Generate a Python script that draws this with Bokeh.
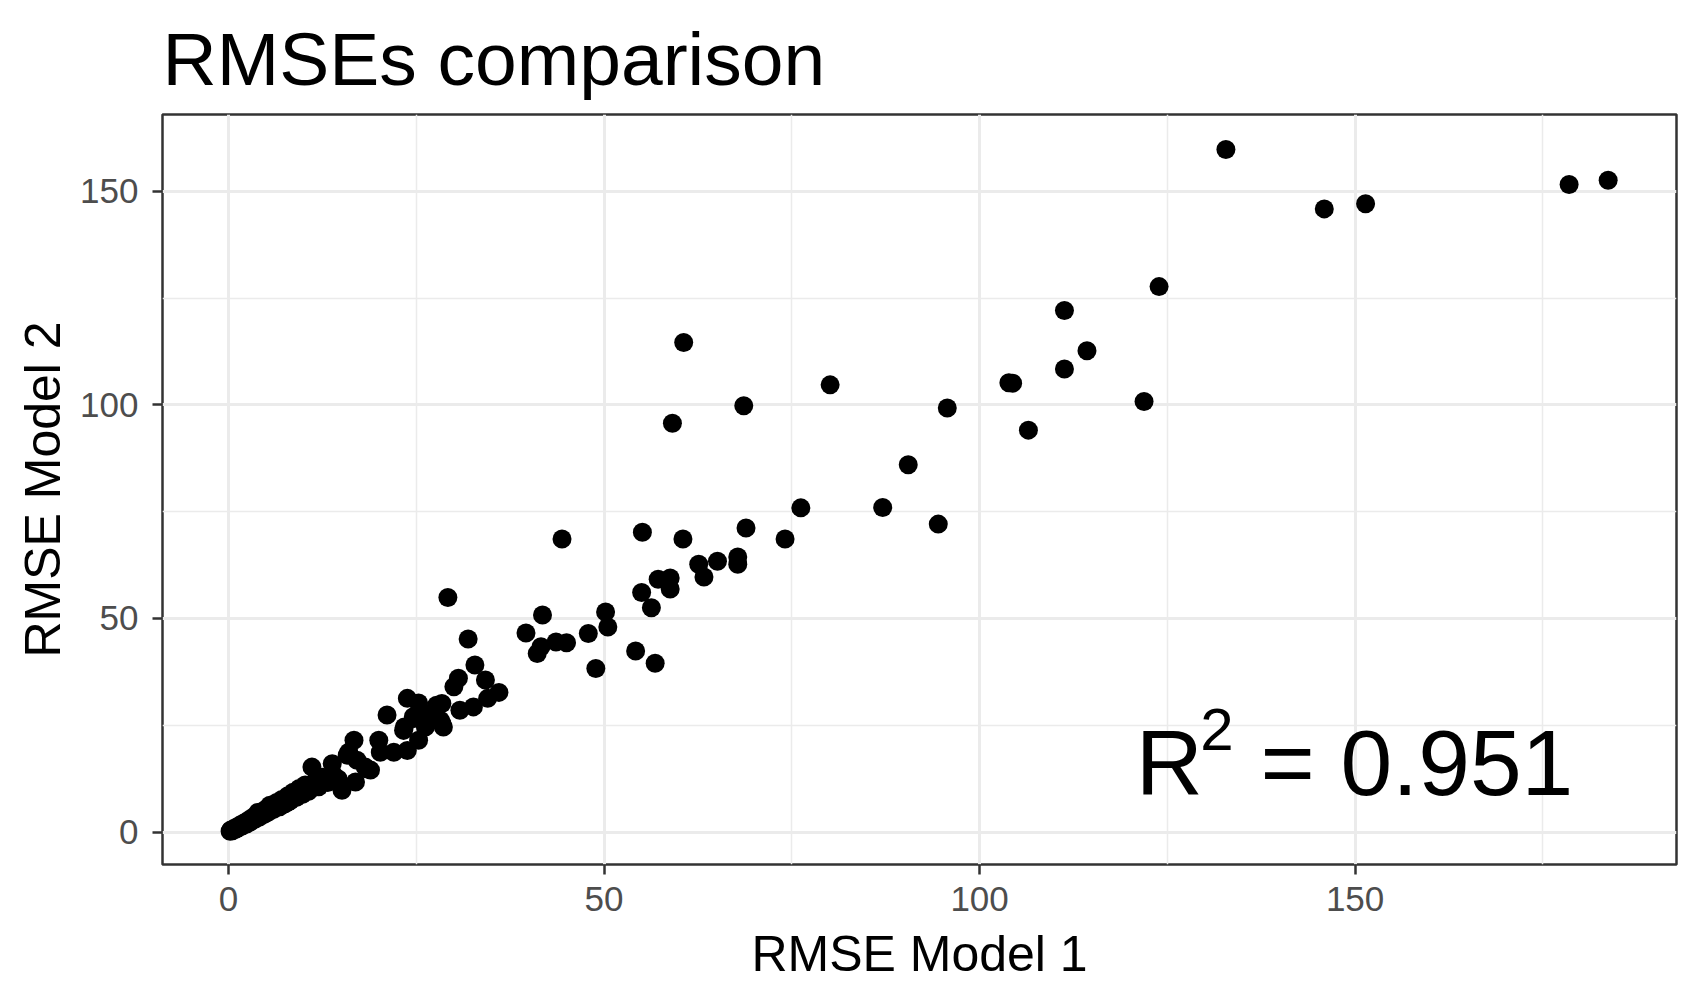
from bokeh.plotting import figure
from bokeh.models import Range1d, FixedTicker, ColumnDataSource
from bokeh.core.properties import value
from bokeh.embed import file_html
from bokeh.resources import INLINE

# ---- data ----
rmse_model1 = [
    183.7, 178.5, 151.4, 145.9, 132.8, 123.9, 111.3, 114.3, 111.3, 103.9,
    104.4, 121.9, 106.5, 95.7, 90.5, 87.1, 94.5, 80.1, 76.2, 74.1,
    68.6, 68.9, 67.8, 67.8, 65.1, 62.6, 63.3, 60.5, 60.6, 59.1,
    58.8, 58.8, 57.2, 55.0, 56.3, 55.1, 56.8, 54.2, 50.2, 50.5,
    48.9, 47.9, 44.4, 45.0, 43.6, 41.8, 41.6, 41.1, 39.6, 36.0,
    34.2, 34.5, 32.8, 31.9, 30.6, 30.0, 32.6, 30.8, 29.2, 28.4,
    28.4, 23.8, 25.3, 24.6, 27.7, 21.1, 23.3, 25.3, 23.8, 20.0,
    16.7, 15.8, 13.8, 18.2, 17.1, 11.1, 22.0, 20.2, 18.9, 26.4,
    24.7, 23.4, 28.6, 26.2, 15.1, 16.9, 16.0, 18.4, 28.2,
    0.2, 0.3, 0.5, 0.7, 0.9, 1.1, 1.3, 1.6, 1.8, 2.1,
    2.4, 2.7, 2.9, 3.2, 3.5, 3.8, 4.1, 4.4, 4.7, 5.0,
    5.3, 5.7, 6.0, 6.4, 6.8, 7.1, 7.5, 7.9, 8.2, 8.6,
    9.0, 9.4, 9.8, 10.2, 10.6, 11.5, 12.0, 12.5, 13.2, 14.0,
    14.6, 5.5, 7.8, 9.6, 3.9, 11.0,
]
rmse_model2 = [
    152.6, 151.6, 147.1, 145.9, 159.8, 127.7, 122.1, 112.7, 108.4, 105.2,
    105.1, 100.8, 94.1, 99.3, 86.0, 76.0, 72.1, 104.7, 75.9, 68.6,
    99.8, 71.2, 64.4, 62.7, 63.4, 62.7, 59.7, 68.6, 114.6, 95.7,
    59.5, 56.9, 59.2, 56.1, 52.5, 70.2, 39.5, 42.4, 51.5, 48.0,
    38.3, 46.5, 68.6, 44.3, 44.5, 50.8, 43.4, 41.8, 46.6, 32.7,
    35.6, 31.3, 39.1, 45.2, 36.0, 34.0, 29.3, 28.5, 54.9, 30.1,
    25.4, 31.3, 30.2, 27.0, 29.7, 27.4, 23.8, 21.5, 19.1, 21.5,
    21.5, 18.0, 16.0, 15.2, 16.8, 15.2, 18.7, 18.7, 14.5, 27.7,
    26.6, 24.6, 24.6, 24.6, 9.8, 11.7, 18.7, 14.8, 26.2,
    0.2, 0.5, 0.3, 0.8, 0.6, 1.2, 1.0, 1.7, 1.4, 2.2,
    1.9, 2.8, 2.4, 3.4, 3.0, 4.0, 3.5, 4.7, 4.1, 5.4,
    4.7, 6.1, 5.3, 6.9, 5.9, 7.6, 6.6, 8.5, 7.3, 9.3,
    8.1, 10.2, 8.8, 11.0, 9.5, 11.8, 10.6, 12.8, 11.6, 13.3,
    12.4, 6.3, 6.9, 9.2, 4.6, 10.1,
]
x_major_ticks = [0, 50, 100, 150]
x_minor_ticks = [25, 75, 125, 175]
y_major_ticks = [0, 50, 100, 150]
y_minor_ticks = [25, 75, 125]
r2_text = "0.951"

FONT = "Liberation Sans"

src = ColumnDataSource(dict(x=rmse_model1, y=rmse_model2))

p = figure(
    width=1700, height=1000,
    output_backend="svg", toolbar_location=None,
    x_range=Range1d(-8.8, 192.8), y_range=Range1d(-7.6, 168.0),
    title="RMSEs comparison",
    min_border_left=162, min_border_right=24,
    min_border_top=114, min_border_bottom=136,
)
p.background_fill_color = "white"
p.border_fill_color = "white"
p.outline_line_color = "#333333"
p.outline_line_width = 2.5

# title
p.title.text_font = FONT
p.title.text_font_size = "75px"
p.title.text_font_style = "normal"
p.title.text_color = "black"
p.title.align = "left"
p.title.standoff = 28

# tickers
p.xaxis.ticker = FixedTicker(ticks=x_major_ticks, minor_ticks=x_minor_ticks)
p.yaxis.ticker = FixedTicker(ticks=y_major_ticks, minor_ticks=y_minor_ticks)

for ax in (p.xaxis[0], p.yaxis[0]):
    ax.axis_line_color = None
    ax.major_tick_line_color = "#333333"
    ax.major_tick_line_width = 2.5
    ax.major_tick_out = 10
    ax.major_tick_in = 0
    ax.minor_tick_line_color = None
    ax.major_label_text_font = FONT
    ax.major_label_text_font_size = "35px"
    ax.major_label_text_color = "#4D4D4D"
    ax.axis_label_text_font = FONT
    ax.axis_label_text_font_size = "50px"
    ax.axis_label_text_font_style = "normal"
    ax.axis_label_text_color = "black"

p.xaxis.axis_label = "RMSE Model 1"
p.yaxis.axis_label = "RMSE Model 2"
p.xaxis.major_label_standoff = 12
p.yaxis.major_label_standoff = 14
p.xaxis.axis_label_standoff = 12
p.yaxis.axis_label_standoff = 6

# grid
for g in (p.xgrid[0], p.ygrid[0]):
    g.grid_line_color = "#EBEBEB"
    g.grid_line_width = 3
    g.minor_grid_line_color = "#EBEBEB"
    g.minor_grid_line_width = 1.5

# points
p.scatter("x", "y", source=src, size=19, fill_color="black", line_color=None)

# R^2 annotation
p.text(x=[120.8], y=[16.1], text=["R"], text_font=value(FONT),
       text_font_size="93px", text_color="black",
       text_align="left", text_baseline="alphabetic")
p.text(x=[129.4], y=[24.1], text=["2"], text_font=value(FONT),
       text_font_size="60px", text_color="black",
       text_align="left", text_baseline="alphabetic")
p.text(x=[137.4], y=[16.1], text=["= " + r2_text], text_font=value(FONT),
       text_font_size="93px", text_color="black",
       text_align="left", text_baseline="alphabetic")

open("out.html", "w").write(file_html(p, INLINE))
